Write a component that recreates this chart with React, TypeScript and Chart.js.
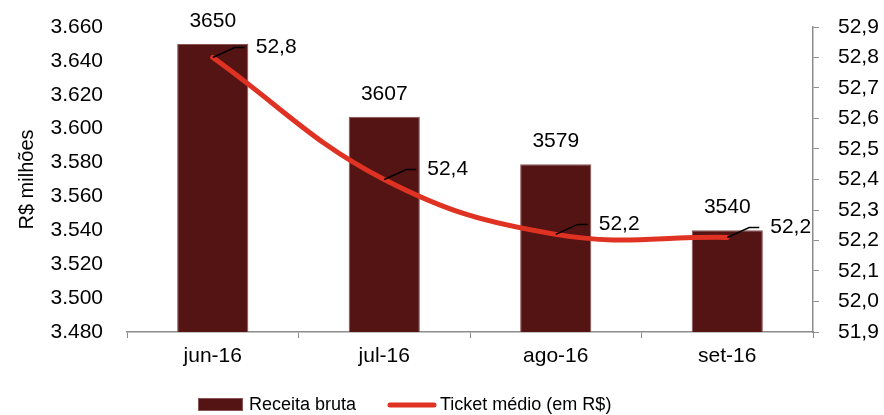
import React, { useEffect, useRef } from "react";
import { Chart, registerables } from "chart.js";

Chart.register(...registerables);

const categories = ["jun-16", "jul-16", "ago-16", "set-16"];
const receitaBruta = [3650, 3607, 3579, 3540];
const ticketMedio = [52.8, 52.4, 52.22, 52.21];
const seriesNames = ["Receita bruta", "Ticket médio (em R$)"];
const leftTitle = "R$ milhões";

const FONT = "'Liberation Sans', Arial, sans-serif";
const BAR_COLOR = "#541414";
const BAR_BORDER = "#8a5454";
const LINE_COLOR = "#e03222";
const AXIS_COLOR = "#8c8c8c";

const fmtThousands = (v: number) => {
  const n = Math.round(v);
  const th = Math.floor(n / 1000);
  const rest = String(n % 1000).padStart(3, "0");
  return th + "." + rest;
};
const fmtDec = (v: number) => v.toFixed(1).replace(".", ",");

const labelsPlugin = {
  id: "customLabels",
  afterDatasetsDraw(chart: any) {
    const ctx = chart.ctx;
    ctx.save();
    ctx.font = `21px ${FONT}`;
    ctx.fillStyle = "#000";
    const barMeta = chart.getDatasetMeta(0);
    barMeta.data.forEach((el: any, i: number) => {
      ctx.textAlign = "center";
      ctx.textBaseline = "middle";
      ctx.fillText(String(receitaBruta[i]), el.x, el.y - 23);
    });
    const lineMeta = chart.getDatasetMeta(1);
    lineMeta.data.forEach((el: any, i: number) => {
      const px = el.x;
      const py = el.y;
      ctx.strokeStyle = "#000";
      ctx.lineWidth = 1.5;
      ctx.beginPath();
      ctx.moveTo(px, py);
      ctx.lineTo(px + 22, py - 10);
      ctx.lineTo(px + 32, py - 10);
      ctx.stroke();
      ctx.textAlign = "left";
      ctx.textBaseline = "middle";
      ctx.fillText(fmtDec(ticketMedio[i]), px + 43, py - 10);
    });
    ctx.restore();
  },
  afterDraw(chart: any) {
    const ctx = chart.ctx;
    ctx.save();
    ctx.font = `18px ${FONT}`;
    ctx.textBaseline = "middle";
    ctx.textAlign = "left";
    const y = 405;
    ctx.fillStyle = BAR_COLOR;
    ctx.fillRect(198, 398, 45, 13);
    ctx.strokeStyle = BAR_BORDER;
    ctx.lineWidth = 1;
    ctx.strokeRect(198.5, 398.5, 44, 12);
    ctx.fillStyle = "#000";
    ctx.fillText(seriesNames[0], 249, y);
    ctx.strokeStyle = LINE_COLOR;
    ctx.lineWidth = 5;
    ctx.lineCap = "round";
    ctx.beginPath();
    ctx.moveTo(390, y);
    ctx.lineTo(434, y);
    ctx.stroke();
    ctx.fillText(seriesNames[1], 440, y);
    ctx.restore();
  },
};

export default function App() {
  const canvasRef = useRef<HTMLCanvasElement | null>(null);

  useEffect(() => {
    document.body.style.margin = "0";
    const canvas = canvasRef.current;
    if (!canvas) return;
    const chart = new Chart(canvas, {
      type: "bar",
      data: {
        labels: categories,
        datasets: [
          {
            type: "bar",
            label: seriesNames[0],
            data: receitaBruta,
            yAxisID: "y",
            backgroundColor: BAR_COLOR,
            borderColor: BAR_BORDER,
            borderWidth: 1,
            barPercentage: 0.415,
            categoryPercentage: 1,
            order: 1,
          } as any,
          {
            type: "line",
            label: seriesNames[1],
            data: ticketMedio,
            yAxisID: "y1",
            borderColor: LINE_COLOR,
            backgroundColor: LINE_COLOR,
            borderWidth: 5,
            borderCapStyle: "round",
            pointRadius: 0,
            tension: 0.4,
            order: 0,
          } as any,
        ],
      },
      options: {
        responsive: false,
        animation: false,
        devicePixelRatio: 1,
        layout: { padding: { top: 27, left: 0, right: 0, bottom: 0 } },
        plugins: {
          legend: { display: false },
          tooltip: { enabled: false },
        },
        scales: {
          x: {
            offset: true,
            grid: {
              display: true,
              drawOnChartArea: false,
              drawTicks: true,
              tickLength: 6,
              color: AXIS_COLOR,
              offset: true,
            },
            border: { display: true, color: AXIS_COLOR, width: 1.5 },
            ticks: {
              color: "#000",
              font: { family: FONT, size: 21 },
              padding: 6,
              maxRotation: 0,
            },
            afterFit(s: any) {
              s.height = 83;
              s.paddingLeft = 0;
              s.paddingRight = 0;
            },
          },
          y: {
            position: "left",
            min: 3480,
            max: 3660,
            grid: { display: false, drawTicks: false },
            border: { display: false },
            ticks: {
              stepSize: 20,
              color: "#000",
              font: { family: FONT, size: 21 },
              padding: 24,
              callback: (v: any) => fmtThousands(Number(v)),
            },
            title: {
              display: true,
              text: leftTitle,
              color: "#000",
              font: { family: FONT, size: 20 },
              padding: { top: 15, bottom: 0 },
            },
            afterFit(s: any) {
              s.width = 127;
              s.paddingTop = 0;
              s.paddingBottom = 0;
            },
          },
          y1: {
            position: "right",
            min: 51.9,
            max: 52.9,
            grid: {
              display: true,
              drawOnChartArea: false,
              drawTicks: true,
              tickLength: 6,
              color: AXIS_COLOR,
            },
            border: { display: true, color: AXIS_COLOR, width: 1.5 },
            ticks: {
              stepSize: 0.1,
              color: "#000",
              font: { family: FONT, size: 21 },
              padding: 19,
              callback: (v: any) => fmtDec(Number(v)),
            },
            afterFit(s: any) {
              s.width = 71;
              s.paddingTop = 0;
              s.paddingBottom = 0;
            },
          },
        },
      } as any,
      plugins: [labelsPlugin],
    });
    return () => chart.destroy();
  }, []);

  return (
    <div style={{ width: 884, height: 415 }}>
      <canvas ref={canvasRef} width={884} height={415} style={{ display: "block" }} />
    </div>
  );
}
